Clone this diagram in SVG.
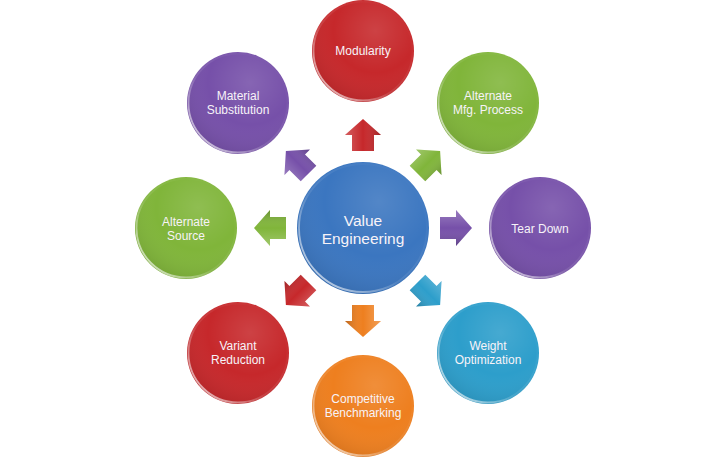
<svg xmlns="http://www.w3.org/2000/svg" width="720" height="465" viewBox="0 0 720 465">
<defs>
 <radialGradient id="shade" cx="0.62" cy="0.3" r="0.75">
  <stop offset="0" stop-color="#fff" stop-opacity="0.12"/>
  <stop offset="0.55" stop-color="#fff" stop-opacity="0"/>
  <stop offset="1" stop-color="#000" stop-opacity="0.1"/>
 </radialGradient>
 <linearGradient id="rim" x1="0.1" y1="0.9" x2="0.9" y2="0.1">
  <stop offset="0" stop-color="#fff" stop-opacity="0.7"/>
  <stop offset="0.4" stop-color="#fff" stop-opacity="0.1"/>
  <stop offset="1" stop-color="#fff" stop-opacity="0"/>
 </linearGradient>
 <linearGradient id="abev" x1="0" y1="0" x2="0" y2="1">
  <stop offset="0" stop-color="#fff" stop-opacity="0.25"/>
  <stop offset="0.5" stop-color="#fff" stop-opacity="0"/>
  <stop offset="1" stop-color="#000" stop-opacity="0.22"/>
 </linearGradient>
 <path id="arr" d="M-16,-11H0V-18L16,0L0,18V11H-16Z"/>
</defs>
<style>
 .lbl{font-family:"Liberation Sans",Arial,sans-serif;font-size:12px;fill:#f7f3f8;text-anchor:middle}
 .big{font-size:15.5px}
 .shade{fill:url(#shade)}
 .rim{fill:none;stroke:url(#rim);stroke-width:1.8}
 .bev{fill:url(#abev)}
 .red{fill:#c6282b}
 .green{fill:#80b53a}
 .purple{fill:#7650a9}
 .cyan{fill:#2d9ecb}
 .orange{fill:#ee7f1f}
 .blue{fill:#3b76c0}
</style>
<rect width="720" height="465" fill="#fff"/>

<g id="connectors">
 <g transform="translate(363,135) rotate(-90)"><use href="#arr" class="red"/><use href="#arr" class="bev"/></g>
 <g transform="translate(428.8,162.2) rotate(-45)"><use href="#arr" class="green"/><use href="#arr" class="bev"/></g>
 <g transform="translate(456,228)"><use href="#arr" class="purple"/><use href="#arr" class="bev"/></g>
 <g transform="translate(428.8,293.8) rotate(45)"><use href="#arr" class="cyan"/><use href="#arr" class="bev"/></g>
 <g transform="translate(363,321) rotate(90)"><use href="#arr" class="orange"/><use href="#arr" class="bev"/></g>
 <g transform="translate(297.2,293.8) rotate(135)"><use href="#arr" class="red"/><use href="#arr" class="bev"/></g>
 <g transform="translate(270,228) rotate(180)"><use href="#arr" class="green"/><use href="#arr" class="bev"/></g>
 <g transform="translate(297.2,162.2) rotate(-135)"><use href="#arr" class="purple"/><use href="#arr" class="bev"/></g>
</g>

<g id="value-engineering">
 <circle cx="363" cy="228" r="66" class="blue"/>
 <circle cx="363" cy="228" r="66" class="shade"/>
 <circle cx="363" cy="228" r="64" class="rim"/>
 <text class="lbl big" x="363" y="226">Value</text>
 <text class="lbl big" x="363" y="244">Engineering</text>
</g>

<g id="modularity">
 <circle cx="363" cy="51" r="51" class="red"/>
 <circle cx="363" cy="51" r="51" class="shade"/>
 <circle cx="363" cy="51" r="49.5" class="rim"/>
 <text class="lbl" x="363" y="55">Modularity</text>
</g>

<g id="alternate-mfg-process">
 <circle cx="488" cy="103" r="51" class="green"/>
 <circle cx="488" cy="103" r="51" class="shade"/>
 <circle cx="488" cy="103" r="49.5" class="rim"/>
 <text class="lbl" x="488" y="100">Alternate</text>
 <text class="lbl" x="488" y="114">Mfg. Process</text>
</g>

<g id="tear-down">
 <circle cx="540" cy="228" r="51" class="purple"/>
 <circle cx="540" cy="228" r="51" class="shade"/>
 <circle cx="540" cy="228" r="49.5" class="rim"/>
 <text class="lbl" x="540" y="233">Tear Down</text>
</g>

<g id="weight-optimization">
 <circle cx="488" cy="353" r="51" class="cyan"/>
 <circle cx="488" cy="353" r="51" class="shade"/>
 <circle cx="488" cy="353" r="49.5" class="rim"/>
 <text class="lbl" x="488" y="350">Weight</text>
 <text class="lbl" x="488" y="364">Optimization</text>
</g>

<g id="competitive-benchmarking">
 <circle cx="363" cy="406" r="51" class="orange"/>
 <circle cx="363" cy="406" r="51" class="shade"/>
 <circle cx="363" cy="406" r="49.5" class="rim"/>
 <text class="lbl" x="363" y="403">Competitive</text>
 <text class="lbl" x="363" y="417">Benchmarking</text>
</g>

<g id="variant-reduction">
 <circle cx="238" cy="353" r="51" class="red"/>
 <circle cx="238" cy="353" r="51" class="shade"/>
 <circle cx="238" cy="353" r="49.5" class="rim"/>
 <text class="lbl" x="238" y="350">Variant</text>
 <text class="lbl" x="238" y="364">Reduction</text>
</g>

<g id="alternate-source">
 <circle cx="186" cy="228" r="51" class="green"/>
 <circle cx="186" cy="228" r="51" class="shade"/>
 <circle cx="186" cy="228" r="49.5" class="rim"/>
 <text class="lbl" x="186" y="226">Alternate</text>
 <text class="lbl" x="186" y="240">Source</text>
</g>

<g id="material-substitution">
 <circle cx="238" cy="103" r="51" class="purple"/>
 <circle cx="238" cy="103" r="51" class="shade"/>
 <circle cx="238" cy="103" r="49.5" class="rim"/>
 <text class="lbl" x="238" y="100">Material</text>
 <text class="lbl" x="238" y="114">Substitution</text>
</g>
</svg>
